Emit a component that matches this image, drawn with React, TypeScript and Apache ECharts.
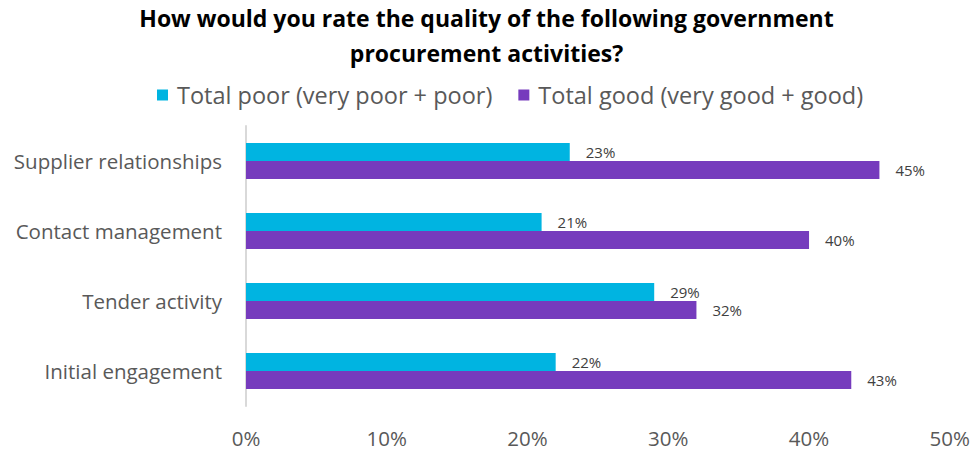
import React, { useEffect, useRef } from "react";
import * as echarts from "echarts";

const categories = ["Supplier relationships", "Contact management", "Tender activity", "Initial engagement"];
const poorValues = [23, 21, 29, 22];
const goodValues = [45, 40, 32, 43];
const seriesNames = ["Total poor (very poor + poor)", "Total good (very good + good)"];
const FONT = "'Open Sans', 'Noto Sans', sans-serif";

export default function App() {
  const ref = useRef<HTMLDivElement>(null);
  useEffect(() => {
    document.body.style.margin = "0";
    if (!ref.current) return;
    const chart = echarts.init(ref.current, undefined, { renderer: "svg" });
    chart.setOption({
      animation: false,
      textStyle: { fontFamily: FONT },
      title: {
        text: "How would you rate the quality of the following government\nprocurement activities?",
        left: "center",
        top: 0,
        padding: [0, 5],
        textStyle: { fontFamily: FONT, fontWeight: "bold", fontSize: 23, color: "#000", lineHeight: 35 },
      },
      legend: {
        top: 78,
        left: 152,
        icon: "rect",
        itemWidth: 11,
        itemHeight: 11,
        itemGap: 26,
        textStyle: { fontFamily: FONT, fontSize: 23.5, color: "#595959", padding: [0, 0, 0, 4] },
        data: seriesNames,
      },
      grid: { left: 246, right: 23, top: 126, height: 280, containLabel: false },
      xAxis: {
        type: "value",
        min: 0,
        max: 50,
        interval: 10,
        axisLabel: { formatter: "{value}%", fontSize: 20.5, color: "#595959", margin: 21, fontFamily: FONT },
        splitLine: { show: false },
        axisLine: { show: false },
        axisTick: { show: false },
      },
      yAxis: {
        type: "category",
        inverse: true,
        data: categories,
        axisLabel: { fontSize: 20.5, color: "#595959", margin: 24, fontFamily: FONT },
        axisLine: { show: true, lineStyle: { color: "#d9d9d9", width: 2 } },
        axisTick: { show: false },
      },
      series: [
        {
          name: seriesNames[0],
          type: "bar",
          data: poorValues,
          barWidth: 18,
          barGap: "0%",
          itemStyle: { color: "#00B4E1" },
          label: { show: true, position: "right", distance: 16, formatter: "{c}%", fontSize: 15, color: "#404040", fontFamily: FONT },
        },
        {
          name: seriesNames[1],
          type: "bar",
          data: goodValues,
          barWidth: 18,
          barGap: "0%",
          itemStyle: { color: "#763BBD" },
          label: { show: true, position: "right", distance: 16, formatter: "{c}%", fontSize: 15, color: "#404040", fontFamily: FONT },
        },
      ],
    });
    return () => chart.dispose();
  }, []);
  return <div ref={ref} style={{ width: 973, height: 450 }} />;
}
